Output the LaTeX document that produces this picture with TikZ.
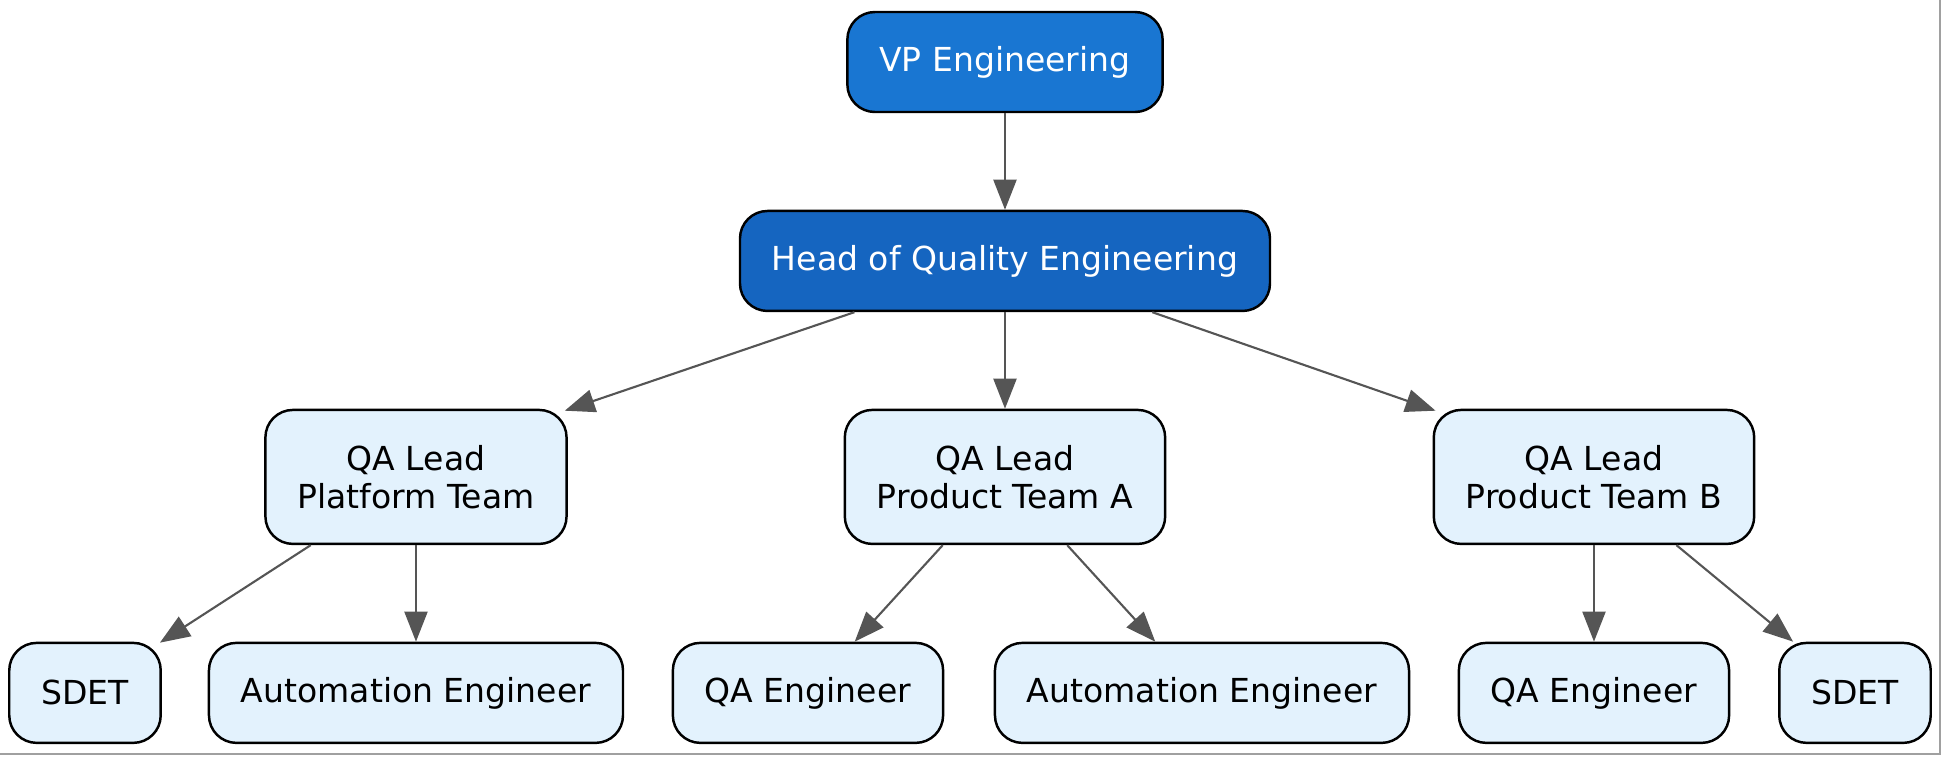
\documentclass[tikz,border=0pt]{standalone}
\usepackage{fontspec}
\setmainfont{DejaVu Sans}
\usetikzlibrary{arrows.meta, positioning}
\definecolor{vpblue}{HTML}{1976D2}
\definecolor{headblue}{HTML}{1565C0}
\definecolor{teamfill}{HTML}{E3F2FD}
\definecolor{edgegray}{HTML}{555555}
\definecolor{framegray}{HTML}{A0A0A0}

\begin{document}
\begin{tikzpicture}[
    node distance=1.93cm,
    every node/.style={font=\fontsize{18.8}{21.5}\selectfont},
    box/.style={rectangle, draw=black, rounded corners=0.55cm,
                line width=1.4pt, minimum height=2cm,
                inner xsep=0.64cm, align=center},
    exec/.style={box, text=white},
    team/.style={box, fill=teamfill},
    lead/.style={team, minimum height=2.68cm},
    arrow/.style={-{Triangle[length=0.6cm, width=0.46cm]},
                  line width=1.2pt, color=edgegray}
]
\useasboundingbox (-20.1,1.22) rectangle (18.74,-13.9);

% Management
\node[exec, fill=vpblue] (vp) at (0,-0.02) {VP Engineering};
\node[exec, fill=headblue, below=of vp] (head) {Head of Quality Engineering};

% QA leads
\node[lead, below=of head] (proda) {QA Lead\\Product Team A};
\node[lead, below=of head, xshift=-11.78cm] (plat) {QA Lead\\Platform Team};
\node[lead, below=of head, xshift=11.78cm] (prodb) {QA Lead\\Product Team B};

% Teams
\node[team, below=of plat] (auto1) {Automation Engineer};
\node[team, below=of plat, xshift=-6.62cm] (sdet1) {SDET};
\node[team, below=of proda, xshift=-3.94cm] (qaeng1) {QA Engineer};
\node[team, below=of proda, xshift=3.94cm] (auto2) {Automation Engineer};
\node[team, below=of prodb] (qaeng2) {QA Engineer};
\node[team, below=of prodb, xshift=5.22cm] (sdet2) {SDET};

% Arrows
\draw[arrow] (vp) -- (head);
\draw[arrow] (head) -- ([xshift=-0.06cm, yshift=-0.04cm]plat.north east);
\draw[arrow] (head) -- (proda);
\draw[arrow] (head) -- ([xshift=0.06cm, yshift=-0.04cm]prodb.north west);
\draw[arrow] (plat) -- ([xshift=-0.04cm, yshift=-0.02cm]sdet1.north east);
\draw[arrow] (plat) -- (auto1);
\draw[arrow] (proda) -- (qaeng1);
\draw[arrow] (proda) -- (auto2);
\draw[arrow] (prodb) -- (qaeng2);
\draw[arrow] (prodb) -- (sdet2);

% Frame
\draw[framegray, line width=0.8pt] (-20.1,-13.86) -- (18.70,-13.86) -- (18.70,1.22);

\end{tikzpicture}
\end{document}
